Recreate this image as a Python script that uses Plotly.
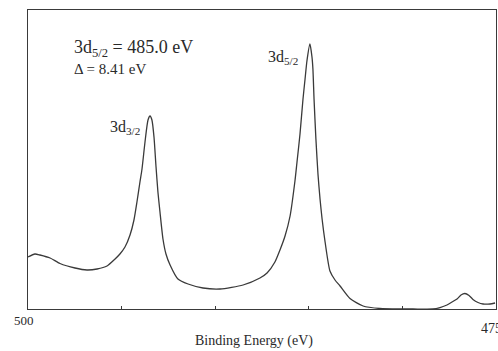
import plotly.graph_objects as go

# Binding energy (eV) and intensity (arb. units)
energy = [500.00, 499.63, 499.36, 498.82, 498.29, 497.49, 496.85, 496.31, 495.78, 495.35,
          495.09, 494.82, 494.55, 494.34, 494.18, 494.02, 493.91, 493.75, 493.59, 493.48,
          493.38, 493.27, 493.16, 493.06, 492.95, 492.79, 492.63, 492.41, 491.99, 491.45,
          490.65, 489.74, 488.51, 487.61, 487.23, 486.81, 486.54, 486.27, 486.00, 485.74,
          485.63, 485.47, 485.31, 485.20, 485.10, 484.94, 484.83, 484.78, 484.72, 484.62,
          484.51, 484.40, 484.29, 484.13, 483.87, 483.60, 483.33, 482.80, 482.10, 481.20,
          480.13, 479.43, 478.37, 477.99, 477.62, 477.35, 477.08, 476.87, 476.66, 476.44,
          476.23, 475.96, 475.69, 475.32, 475.05]
intensity = [52, 55, 54, 51, 45.5, 41, 39, 40, 43, 50,
             55, 62, 74, 89, 107, 127, 140, 167, 189, 193,
             189, 172, 142, 117, 97, 70, 55, 44, 30, 25,
             21, 20, 24, 31, 36, 47, 59, 73, 93, 128,
             147, 175, 210, 230, 248, 265, 252, 240, 210, 170,
             135, 110, 90, 67, 38, 29, 23, 10.5, 3, 0.5,
             0, 0, 0, 1.5, 4, 7, 10, 14, 15.5, 13.5,
             9.6, 6.5, 5, 5, 6]

tick_label_texts = ["500", "475"]
peak_labels = ["3d<sub>3/2</sub>", "3d<sub>5/2</sub>"]
peak_label_x = [493.9, 485.47]
peak_label_y = [182, 252]
info_lines = ["3d<sub>5/2</sub> = 485.0 eV", "\u0394 = 8.41 eV"]
x_title = "Binding Energy (eV)"

ink = "#2a2a2a"
serif = "Liberation Serif, Times New Roman, serif"

fig = go.Figure()
fig.add_trace(go.Scatter(
    x=energy, y=intensity, mode="lines",
    line=dict(color="#3a3a3a", width=1.3, shape="spline", smoothing=0.6),
    hoverinfo="skip", showlegend=False,
))

fig.update_layout(
    width=498, height=351,
    margin=dict(l=28, r=2, t=10, b=42),
    paper_bgcolor="white", plot_bgcolor="white",
    font=dict(family=serif, color=ink),
    xaxis=dict(range=[500, 475], showgrid=False, zeroline=False,
               showline=True, linecolor="#3a3a3a", linewidth=1.3, mirror=True,
               ticks="inside", tickvals=[500, 495, 490, 485, 480, 475], ticklen=3,
               tickcolor="#3a3a3a", showticklabels=False),
    yaxis=dict(range=[0, 299], showgrid=False, zeroline=False,
               showline=True, linecolor="#3a3a3a", linewidth=1.3, mirror=True,
               ticks="", showticklabels=False),
)

# peak labels
for txt, px, py in zip(peak_labels, peak_label_x, peak_label_y):
    fig.add_annotation(x=px, y=py, text=txt, showarrow=False, xanchor="right",
                       yanchor="middle", font=dict(size=16, family=serif, color=ink))

# info text
fig.add_annotation(x=497.65, y=261, text=info_lines[0], showarrow=False,
                   xanchor="left", yanchor="middle",
                   font=dict(size=18, family=serif, color=ink))
fig.add_annotation(x=497.65, y=240, text=info_lines[1], showarrow=False,
                   xanchor="left", yanchor="middle",
                   font=dict(size=15, family=serif, color=ink))

# end tick labels (axis ends)
fig.add_annotation(xref="paper", yref="paper", x=0, y=-0.04, text=tick_label_texts[0],
                   showarrow=False, xanchor="center", yanchor="middle", xshift=-4,
                   font=dict(size=13, family=serif, color=ink))
fig.add_annotation(xref="paper", yref="paper", x=1, y=-0.064, text=tick_label_texts[1],
                   showarrow=False, xanchor="right", yanchor="middle", xshift=8,
                   font=dict(size=14, family=serif, color=ink))

# axis title
fig.add_annotation(xref="paper", yref="paper", x=0.483, y=-0.107,
                   text=x_title, showarrow=False, xanchor="center", yanchor="middle",
                   font=dict(size=14, family=serif, color=ink))

fig.write_html("out.html", post_script="document.body.style.margin='0';",
               config={"displayModeBar": False})
